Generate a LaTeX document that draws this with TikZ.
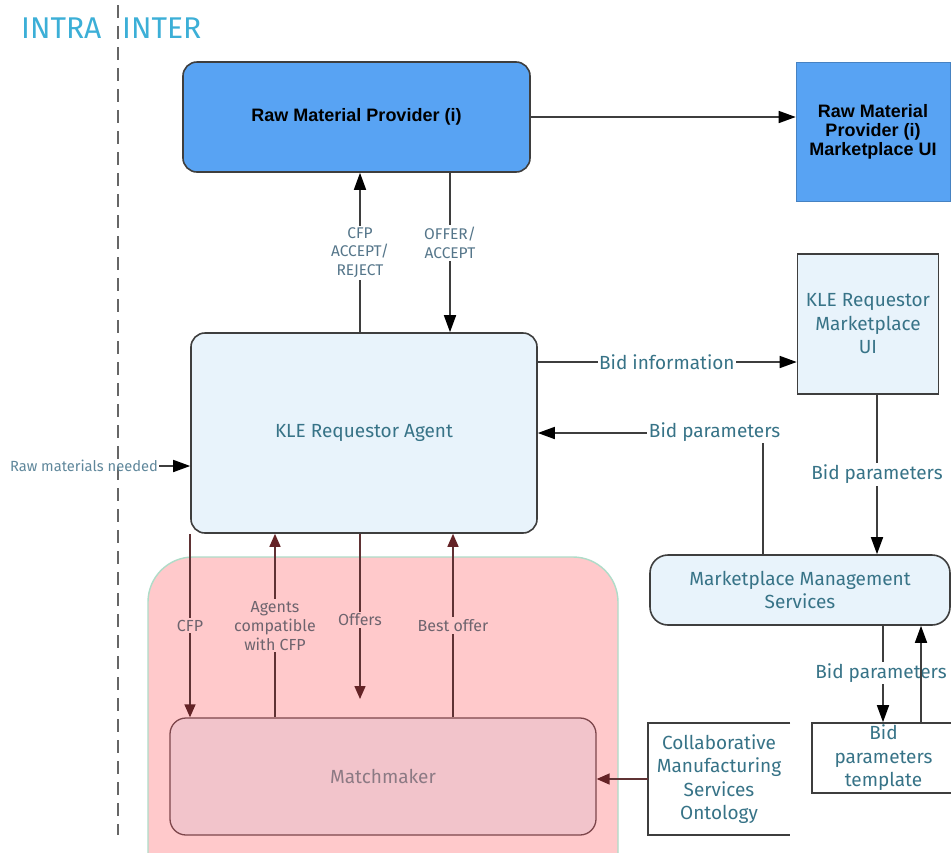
\documentclass[tikz,border=0pt]{standalone}
\usepackage{fontspec}
\setmainfont{Fira Sans}
\newfontfamily\boldui{Liberation Sans}
\usetikzlibrary{arrows.meta}

\definecolor{tealtxt}{RGB}{55,115,135}
\definecolor{smalltxt}{RGB}{85,118,138}
\definecolor{rawtxt}{RGB}{95,135,155}
\definecolor{pinktxt}{RGB}{110,100,110}
\definecolor{zonetxt}{RGB}{60,175,215}
\definecolor{provblue}{RGB}{88,163,243}
\definecolor{paleblue}{RGB}{232,243,251}
\definecolor{zonepink}{RGB}{255,201,203}
\definecolor{zoneedge}{RGB}{175,220,200}
\definecolor{mmfill}{RGB}{242,196,203}
\definecolor{mmedge}{RGB}{125,70,75}
\definecolor{mmtxt}{RGB}{140,122,132}
\definecolor{linegray}{RGB}{62,62,62}
\definecolor{redline}{RGB}{95,50,52}
\definecolor{redtip}{RGB}{100,35,38}

\tikzset{
  box/.style={draw=linegray, line width=1.6pt, inner sep=0pt, align=center},
  mainlbl/.style={text=tealtxt, font=\fontsize{19}{23.5}\selectfont},
  smalllbl/.style={text=smalltxt, font=\fontsize{15.5}{18.5}\selectfont, align=center, inner sep=2pt},
  pinklbl/.style={text=pinktxt, font=\fontsize{16}{19}\selectfont, align=center, inner sep=2pt, fill=zonepink},
  conn/.style={draw=linegray, line width=1.6pt, -{Triangle[length=17pt,width=12pt,color=black]}},
  redconn/.style={draw=redline, line width=1.5pt, -{Triangle[length=13pt,width=11pt,color=redtip]}},
}

\begin{document}
\begin{tikzpicture}[x=1pt,y=-1pt]
\clip (0,0) rectangle (951,852);
\fill[white] (0,0) rectangle (951,852);

% zone divider and headings
\draw[gray!80!black, line width=1.3pt, dash pattern=on 13pt off 8pt] (118,5) -- (118,835);
\node[text=zonetxt, font=\fontsize{30}{32}\selectfont, anchor=base west, inner sep=0pt] (intra) at (21,38) {INTRA};
\node[text=zonetxt, font=\fontsize{30}{32}\selectfont, anchor=base west, inner sep=0pt] (inter) at (122,38) {INTER};

% matchmaking zone
\draw[zoneedge, fill=zonepink, line width=1.4pt, rounded corners=45pt] (148,557) rectangle (618,900);

% provider boxes
\node[box, fill=provblue, rounded corners=14pt, minimum width=347, minimum height=110,
      font=\boldui\bfseries\fontsize{18}{19}\selectfont] (rmp) at (356.5,117) {Raw Material Provider (i)};
\node[box, draw=provblue!80!black, line width=0.6pt, fill=provblue, minimum width=154, minimum height=139,
      font=\boldui\bfseries\fontsize{18}{19}\selectfont] (rmpui) at (873,131.5) {Raw Material\\Provider (i)\\Marketplace UI};

% requestor side
\node[box, fill=paleblue, rounded corners=14pt, minimum width=346, minimum height=200, mainlbl] (agent) at (364,433) {KLE Requestor Agent};
\node[box, fill=paleblue, minimum width=141, minimum height=140, mainlbl] (kleui) at (868,324) {KLE Requestor\\Marketplace\\UI};
\node[box, fill=paleblue, rounded corners=18pt, minimum width=300, minimum height=70, mainlbl] (mms) at (800,590) {Marketplace Management\\Services};
\node[box, minimum width=143, minimum height=70, mainlbl] (tmpl) at (883.5,758) {Bid\\parameters\\template};

% ontology (open on the right)
\draw[linegray, line width=1.6pt] (790,723) -- (648,723) -- (648,835) -- (790,835);
\node[mainlbl, align=center] (onto) at (719,779) {Collaborative\\Manufacturing\\Services\\Ontology};
\coordinate (ontoL) at (648,779);

% matchmaker
\node[draw=mmedge, line width=1.3pt, fill=mmfill, rounded corners=16pt, minimum width=426, minimum height=117,
      text=mmtxt, font=\fontsize{19}{23}\selectfont] (mm) at (383,776.5) {Matchmaker};

% x positions of vertical connectors
\coordinate (xcfp) at (360,0);
\coordinate (xoffer) at (450,0);
\coordinate (xmcfp) at (190,0);
\coordinate (xagents) at (275,0);
\coordinate (xoffers) at (360,0);
\coordinate (xbest) at (453,0);
\coordinate (xbidp) at (763,0);
\coordinate (xuibid) at (877,0);
\coordinate (xdown) at (883,0);
\coordinate (xup) at (921,0);

% provider links
\draw[conn] (rmp.east) -- (rmpui.west |- rmp.east);
\draw[conn] (agent.north -| xcfp) -- node[smalllbl, fill=white, pos=0.50] {CFP\\ACCEPT/\\REJECT} (rmp.south -| xcfp);
\draw[conn] (rmp.south -| xoffer) -- node[smalllbl, fill=white, pos=0.44] {OFFER/\\ACCEPT} (agent.north -| xoffer);

% marketplace links
\coordinate (bidinfo) at (537,362);
\draw[conn] (bidinfo) -- node[mainlbl, fill=white, inner sep=1pt, pos=0.5] {Bid information} (kleui.west |- bidinfo);
\draw[conn] (mms.north -| xbidp) |- node[mainlbl, fill=white, inner sep=2pt, pos=0.5, anchor=east, xshift=20pt, yshift=1pt] {Bid parameters} (agent.east);
\draw[conn] (kleui.south -| xuibid) -- node[mainlbl, fill=white, inner sep=2pt, pos=0.5] {Bid parameters} (mms.north -| xuibid);
\draw[conn] (mms.south -| xdown) -- node[mainlbl, fill=white, inner sep=2pt, pos=0.49, xshift=-2pt] {Bid parameters} (tmpl.north -| xdown);
\draw[conn] (tmpl.north -| xup) -- (mms.south -| xup);

% raw materials input
\node[text=rawtxt, font=\fontsize{14.7}{16}\selectfont, inner sep=1pt] (rmn) at (84,466) {Raw materials needed};
\draw[conn] (rmn.east) -- (agent.west |- rmn.east);

% agent <-> matchmaker
\draw[redconn] (agent.south -| xmcfp) -- node[pinklbl, pos=0.5] {CFP} (mm.north -| xmcfp);
\draw[redconn] (mm.north -| xagents) -- node[pinklbl, pos=0.5] {Agents\\compatible\\with CFP} (agent.south -| xagents);
\coordinate (offersEnd) at (360,699);
\draw[redconn] (agent.south -| xoffers) -- node[pinklbl, pos=0.52] {Offers} (offersEnd);
\draw[redconn] (mm.north -| xbest) -- node[pinklbl, pos=0.5] {Best offer} (agent.south -| xbest);

% ontology feeds the matchmaker
\draw[redconn] (ontoL) -- (mm.east |- ontoL);
\end{tikzpicture}
\end{document}
